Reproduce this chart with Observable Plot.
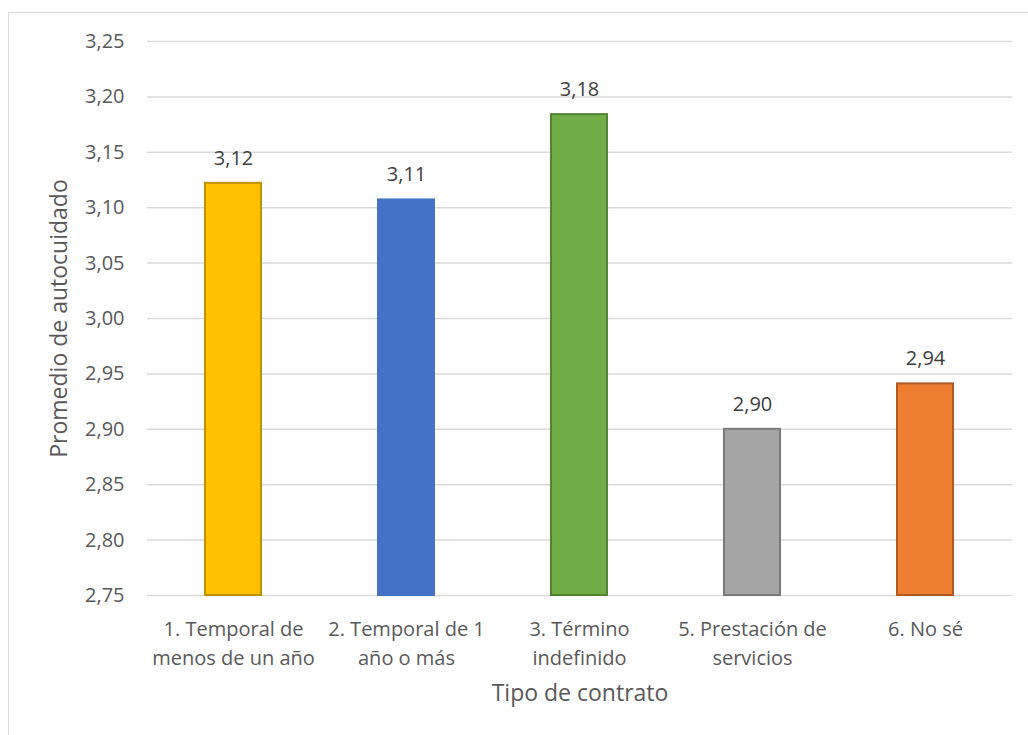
<!DOCTYPE html>
<html>
<head>
<meta charset="utf-8">
<script src="https://cdn.jsdelivr.net/npm/d3@7"></script>
<script src="https://cdn.jsdelivr.net/npm/@observablehq/plot@0.6"></script>
<style>
  html, body { margin: 0; padding: 0; background: #fff; }
  #wrap { position: relative; width: 1028px; height: 735px; overflow: hidden; }
  #border { position: absolute; left: 8px; top: 12px; width: 1040px; height: 760px; border: 1px solid #d9d9d9; box-sizing: border-box; }
  #chart { position: absolute; left: 0; top: 0; }
</style>
</head>
<body>
<div id="wrap"><div id="border"></div><div id="chart"></div></div>
<script>
const categories = ["1. Temporal de\nmenos de un año", "2. Temporal de 1\naño o más", "3. Término\nindefinido", "5. Prestación de\nservicios", "6. No sé"];
const values = [3.122, 3.107, 3.184, 2.900, 2.941];
const fills = ["#FFC000", "#4472C4", "#70AD47", "#A5A5A5", "#ED7D31"];
const strokes = ["#BF9000", "#4472C4", "#548235", "#7B7B7B", "#AE5A21"];
const yTicks = [2.75, 2.80, 2.85, 2.90, 2.95, 3.00, 3.05, 3.10, 3.15, 3.20, 3.25];
const yTitle = "Promedio de autocuidado";
const xTitle = "Tipo de contrato";

const data = categories.map((c, i) => ({cat: c, value: values[i], fill: fills[i], stroke: strokes[i]}));
const fmt = v => d3.format(".2f")(v).replace(".", ",");

const chart = Plot.plot({
  width: 1028,
  height: 735,
  marginLeft: 147,
  marginRight: 16,
  marginTop: 41,
  marginBottom: 140,
  style: {fontFamily: "'Open Sans', 'Noto Sans', sans-serif", fontSize: "20px", color: "#595959", background: "transparent"},
  x: {domain: categories, paddingInner: 0.676, paddingOuter: 0.338, label: null},
  y: {domain: [2.75, 3.25], label: null},
  marks: [
    Plot.gridY(yTicks, {stroke: "#d9d9d9", strokeOpacity: 1, strokeWidth: 1.5}),
    Plot.axisY(yTicks, {tickSize: 0, tickPadding: 23, tickFormat: fmt, fontSize: 20, fill: "#595959", label: null}),
    Plot.axisX({tickSize: 0, tickPadding: 20, fontSize: 20, fill: "#595959", lineHeight: 1.45, label: null}),
    Plot.barY(data, {x: "cat", y1: 2.75, y2: "value", fill: d => d.fill, stroke: d => d.stroke, strokeWidth: 2}),
    Plot.text(data, {x: "cat", y: "value", text: d => fmt(d.value), dy: -25, fontSize: 20, fill: "#404040"}),
    Plot.text([yTitle], {frameAnchor: "left", dx: -88, rotate: -90, text: d => d, fontSize: 23, fill: "#595959", textAnchor: "middle", lineAnchor: "middle"}),
    Plot.text([xTitle], {frameAnchor: "bottom", dy: 98, text: d => d, fontSize: 23, fill: "#595959", textAnchor: "middle", lineAnchor: "middle"})
  ]
});
document.getElementById("chart").appendChild(chart);
</script>
</body>
</html>
